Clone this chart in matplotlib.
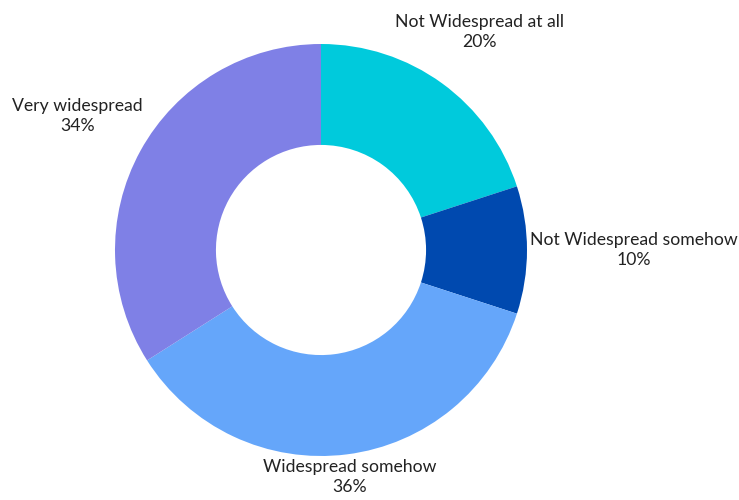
import numpy as np
import matplotlib
matplotlib.use("Agg")
from matplotlib import pyplot as plt

labels = ["Not Widespread at all", "Not Widespread somehow", "Widespread somehow", "Very widespread"]
shares = [20, 10, 36, 34]
colors = ["#00CADC", "#0049AF", "#65A6FA", "#7F80E6"]

# how far out each label sits, in radii from the centre
label_dist = [1.31, 1.52, 1.11, 1.35]

plt.rcParams["font.family"] = ["Lato", "DejaVu Sans"]

fig = plt.figure(figsize=(7.39, 5.0), dpi=100)
ax = fig.add_axes([0, 0, 1, 1])

cx, cy, r = 321, 250, 206
wedges, _ = ax.pie(shares, colors=colors, startangle=90, counterclock=False,
                   radius=r, center=(cx, cy), frame=True,
                   wedgeprops=dict(width=r * 0.49, linewidth=0))
ax.set_xlim(0, 739)
ax.set_ylim(0, 500)
ax.set_aspect("equal")
ax.axis("off")

for w, lab, val, d in zip(wedges, labels, shares, label_dist):
    mid = np.deg2rad((w.theta1 + w.theta2) / 2)
    x = cx + r * d * np.cos(mid)
    y = cy + r * d * np.sin(mid)
    ax.text(x, y, f"{lab}\n{val}%", ha="center", va="center",
            fontsize=12.7, color="#222222", linespacing=1.3)

fig.savefig("out.png", dpi=100)
